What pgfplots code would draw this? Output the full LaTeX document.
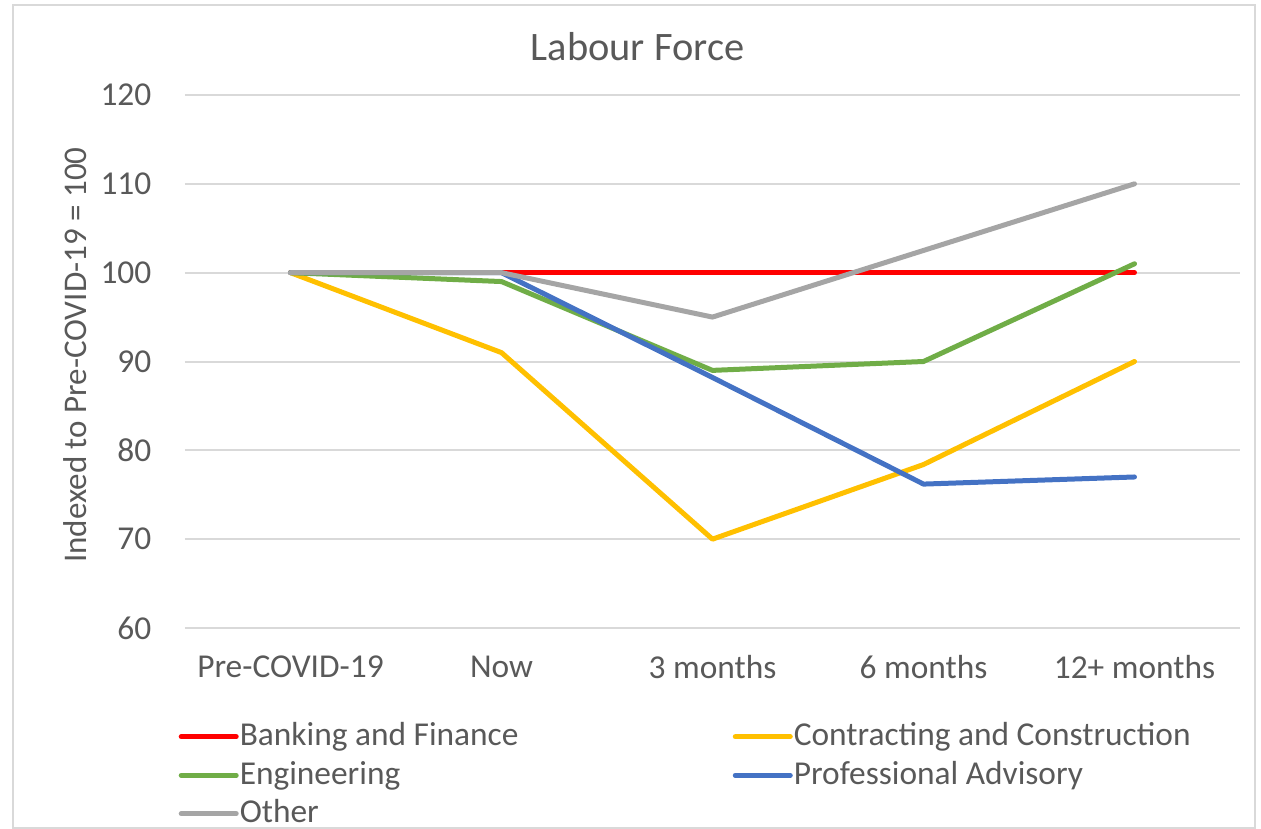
\documentclass[border=0pt]{standalone}
\usepackage{pgfplots}
\pgfplotsset{compat=1.18}
\usepackage{fontspec}
\setmainfont{Carlito}
\definecolor{txt}{HTML}{595959}
\definecolor{gridc}{HTML}{D9D9D9}
\definecolor{sred}{HTML}{FF0000}
\definecolor{syel}{HTML}{FFC000}
\definecolor{sgrn}{HTML}{70AD47}
\definecolor{sblu}{HTML}{4472C4}
\definecolor{sgry}{HTML}{A5A5A5}
\begin{document}
\begin{tikzpicture}
\path[use as bounding box] (-18.5mm,-20.1mm) rectangle (107.6mm,62.8mm);
\draw[color=gridc, line width=0.2mm] (-17.2mm,-20.05mm) rectangle (107mm,62.3mm);
\begin{axis}[
  at={(0,0)}, anchor=south west,
  scale only axis, width=105.5mm, height=53.3mm,
  xmin=-0.5, xmax=4.5, ymin=60, ymax=120,
  ytick={60,70,...,120},
  xtick={0,1,2,3,4},
  xticklabels={Pre-COVID-19,Now,3 months,6 months,12+ months},
  ymajorgrids, grid style={color=gridc, line width=0.2mm},
  axis line style={draw=none}, major tick length=0pt,
  /pgf/number format/assume math mode=true,
  tick label style={font=\fontsize{9.5}{11}\selectfont, text=txt},
  xticklabel style={anchor=center, yshift=-3.9mm},
  yticklabel style={anchor=east, inner sep=0pt, xshift=-3.3mm},
  ylabel={Indexed to Pre-COVID-19 = 100},
  ylabel style={at={(axis description cs:-0.1043,0.512)}, anchor=center, font=\fontsize{9.4}{11}\selectfont, text=txt},
  title={Labour Force},
  every axis title shift=0pt,
  title style={at={(axis description cs:0.429,1.09)}, anchor=center, font=\fontsize{11.5}{13}\selectfont, text=txt},
  legend columns=2,
  legend style={at={(axis description cs:-0.0066,-0.163)}, anchor=north west, draw=none, fill=none,
    font=\fontsize{9.5}{11}\selectfont, text=txt, inner sep=0pt, row sep=-0.4mm,
    /tikz/every odd column/.append style={column sep=-0.6mm}},
  legend cell align=left,
  legend image code/.code={\draw[#1] (0mm,0mm) -- (5.5mm,0mm);},
  every axis plot/.append style={line width=0.5mm, line join=round, line cap=round, mark=none},
]
\addplot[sred] coordinates {(0,100) (1,100) (2,100) (3,100) (4,100)};
\addlegendentry{\makebox[48.6mm][l]{Banking and Finance}}
\addplot[syel] coordinates {(0,100) (1,91) (2,70) (3,78.4) (4,90)};
\addlegendentry{Contracting and Construction}
\addplot[sgrn] coordinates {(0,100) (1,99) (2,89) (3,90) (4,101)};
\addlegendentry{\makebox[48.6mm][l]{Engineering}}
\addplot[sblu] coordinates {(0,100) (1,100) (2,88.2) (3,76.2) (4,77)};
\addlegendentry{Professional Advisory}
\addplot[sgry] coordinates {(0,100) (1,100) (2,95) (3,102.5) (4,110)};
\addlegendentry{\makebox[48.6mm][l]{Other}}
\end{axis}
\end{tikzpicture}
\end{document}
